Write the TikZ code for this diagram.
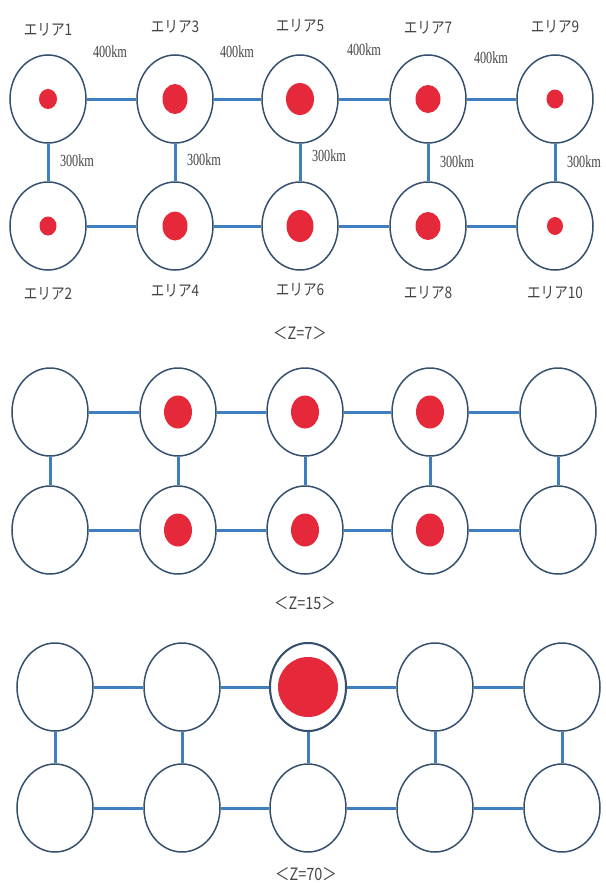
\documentclass[tikz,border=0pt]{standalone}
\usepackage{fontspec}
\newfontfamily\jpfont{Noto Sans CJK JP}
\newfontfamily\kmfont{Liberation Serif}
\usetikzlibrary{shapes.geometric}
\definecolor{ring}{HTML}{34506E}
\definecolor{link}{HTML}{3F7FBF}
\definecolor{dot}{HTML}{E5283A}
\definecolor{txt}{HTML}{444444}
\tikzset{
  area/.style={ellipse, draw=ring, line width=1.5pt, fill=white, minimum width=76pt, minimum height=88pt, inner sep=0pt},
  reddot/.style={ellipse, fill=dot, inner sep=0pt},
  conn/.style={draw=link, line width=3pt},
  arealabel/.style={text=txt, font=\jpfont\fontsize{16}{16}\selectfont, xscale=0.85, inner sep=0pt},
  kmlabel/.style={text=txt, font=\kmfont\fontsize{17}{17}\selectfont, xscale=0.72, inner sep=0pt},
  zlabel/.style={text=txt, font=\jpfont\fontsize{17}{17}\selectfont, xscale=0.85, inner sep=0pt}
}
\begin{document}
\begin{tikzpicture}[x=1pt,y=-1pt]
\useasboundingbox (0,0) rectangle (605,886);
% ---------- panel 1 ----------
\foreach \i/\x in {1/48,2/175,3/300,4/428,5/555}{
  \node[area] (a\i) at (\x,99) {};
  \node[area] (b\i) at (\x,226) {};
}
\foreach \i/\j in {1/2,2/3,3/4,4/5}{
  \draw[conn] (a\i) -- (a\j);
  \draw[conn] (b\i) -- (b\j);
}
\foreach \i in {1,...,5}{ \draw[conn] (a\i) -- (b\i); }
\node[reddot, minimum width=18pt, minimum height=20pt] (da1) at (a1) {};
\node[reddot, minimum width=25pt, minimum height=30pt] (da2) at (a2) {};
\node[reddot, minimum width=28pt, minimum height=32pt] (da3) at (a3) {};
\node[reddot, minimum width=25pt, minimum height=28pt] (da4) at (a4) {};
\node[reddot, minimum width=17pt, minimum height=19pt] (da5) at (a5) {};
\node[reddot, minimum width=17pt, minimum height=19pt] (db1) at (b1) {};
\node[reddot, minimum width=25pt, minimum height=29pt] (db2) at (b2) {};
\node[reddot, minimum width=27pt, minimum height=32pt] (db3) at (b3) {};
\node[reddot, minimum width=25pt, minimum height=28pt] (db4) at (b4) {};
\node[reddot, minimum width=16pt, minimum height=18pt] (db5) at (b5) {};
\node[arealabel] (l1) at (48,30) {エリア1};
\node[arealabel] (l3) at (175,27) {エリア3};
\node[arealabel] (l5) at (300,26) {エリア5};
\node[arealabel] (l7) at (428,28) {エリア7};
\node[arealabel] (l9) at (555,27) {エリア9};
\node[arealabel] (l2) at (48,294) {エリア2};
\node[arealabel] (l4) at (175,291) {エリア4};
\node[arealabel] (l6) at (300,290) {エリア6};
\node[arealabel] (l8) at (428,293) {エリア8};
\node[arealabel] (l10) at (555,293) {エリア10};
\node[kmlabel] (h1) at (110,52) {400km};
\node[kmlabel] (h2) at (237,52) {400km};
\node[kmlabel] (h3) at (364,50) {400km};
\node[kmlabel] (h4) at (491,58) {400km};
\node[kmlabel] (v1) at (77,161) {300km};
\node[kmlabel] (v2) at (204,160) {300km};
\node[kmlabel] (v3) at (329,156) {300km};
\node[kmlabel] (v4) at (457,162) {300km};
\node[kmlabel] (v5) at (584,162) {300km};
\node[zlabel] (z1) at (300,333) {＜Z=7＞};
% ---------- panel 2 ----------
\foreach \i/\x in {1/50,2/178,3/305,4/430,5/558}{
  \node[area] (c\i) at (\x,412) {};
  \node[area] (d\i) at (\x,530) {};
}
\foreach \i/\j in {1/2,2/3,3/4,4/5}{
  \draw[conn] (c\i) -- (c\j);
  \draw[conn] (d\i) -- (d\j);
}
\foreach \i in {1,...,5}{ \draw[conn] (c\i) -- (d\i); }
\foreach \i in {2,3,4}{
  \node[reddot, minimum width=28pt, minimum height=33pt] (dc\i) at (c\i) {};
  \node[reddot, minimum width=28pt, minimum height=33pt] (dd\i) at (d\i) {};
}
\node[zlabel] (z2) at (305,603) {＜Z=15＞};
% ---------- panel 3 ----------
\foreach \i/\x in {1/55,2/182,3/308,4/435,5/562}{
  \node[area] (e\i) at (\x,687) {};
  \node[area] (f\i) at (\x,808) {};
}
\foreach \i/\j in {1/2,2/3,3/4,4/5}{
  \draw[conn] (e\i) -- (e\j);
  \draw[conn] (f\i) -- (f\j);
}
\foreach \i in {1,...,5}{ \draw[conn] (e\i) -- (f\i); }
\node[area, line width=2pt] (e3b) at (e3) {};
\node[reddot, minimum width=60pt, minimum height=60pt] (de3) at (e3) {};
\node[zlabel] (z3) at (306,874) {＜Z=70＞};
\end{tikzpicture}
\end{document}
